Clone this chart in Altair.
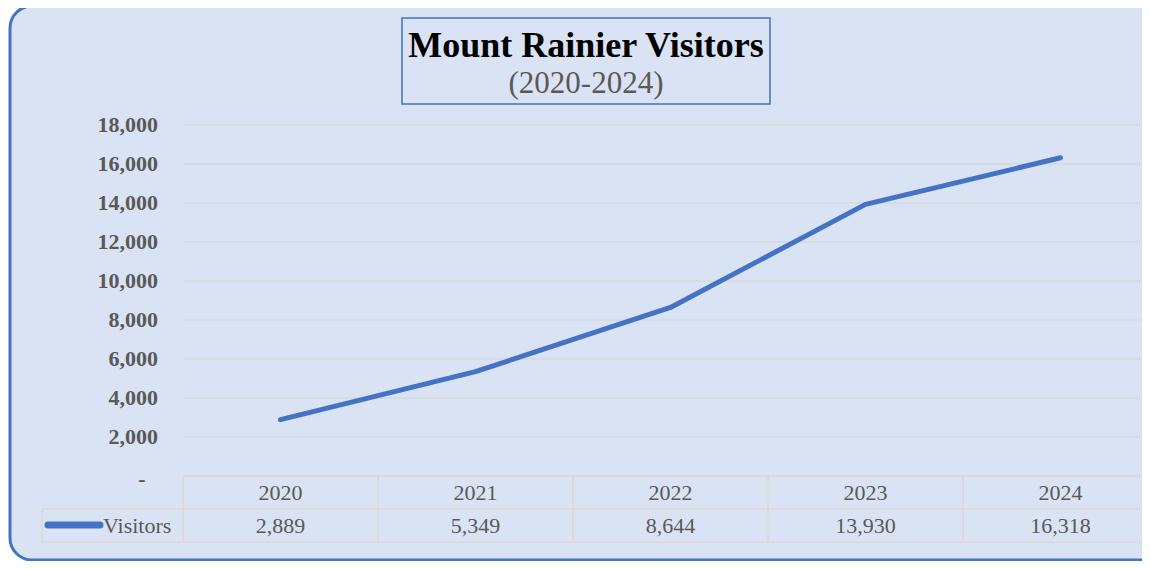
import altair as alt
import pandas as pd

years = ["2020", "2021", "2022", "2023", "2024"]
visitors = [2889, 5349, 8644, 13930, 16318]
y_ticks = [0, 2000, 4000, 6000, 8000, 10000, 12000, 14000, 16000, 18000]
y_tick_labels = ["-", "2,000", "4,000", "6,000", "8,000", "10,000", "12,000", "14,000", "16,000", "18,000"]
title_text = "Mount Rainier Visitors"
subtitle_text = "(2020-2024)"
series_name = "Visitors"

W, H = 1134, 553
FONT = "Liberation Serif"
BLUE = "#4472C4"
BG = "#DAE3F3"
GRID = "#D4D4D4"
TABLE = "#D9D2CA"
TXT = "#595959"

df = pd.DataFrame({"year": years, "visitors": visitors})
ticks = pd.DataFrame({"tick": y_ticks, "label": y_tick_labels})

xs = alt.Scale(domain=years, range=[175, 1150], paddingInner=0, paddingOuter=0)
ys = alt.Scale(domain=[0, 18000], range=[468, 117])

base = alt.Chart(df)

frame = alt.Chart(pd.DataFrame({"a": [0]})).mark_rect(
    fill=BG, stroke=BLUE, strokeWidth=3, cornerRadius=22
).encode(x=alt.value(2), x2=alt.value(W + 40), y=alt.value(-2), y2=alt.value(H - 1))

title_box = alt.Chart(pd.DataFrame({"a": [0]})).mark_rect(
    fill=None, stroke=BLUE, strokeWidth=1.5
).encode(x=alt.value(394), x2=alt.value(762), y=alt.value(10), y2=alt.value(96))

title = alt.Chart(pd.DataFrame({"t": [title_text]})).mark_text(
    font=FONT, fontSize=36, fontWeight="bold", color="#000000", baseline="alphabetic", align="center"
).encode(text="t:N", x=alt.value(578), y=alt.value(49))

subtitle = alt.Chart(pd.DataFrame({"t": [subtitle_text]})).mark_text(
    font=FONT, fontSize=31, color=TXT, baseline="alphabetic", align="center"
).encode(text="t:N", x=alt.value(578), y=alt.value(85))

grid = alt.Chart(ticks).transform_filter("datum.tick > 0").mark_rule(
    color=GRID, strokeWidth=1
).encode(y=alt.Y("tick:Q", scale=ys, axis=None), x=alt.value(175), x2=alt.value(W + 20))

ylabels = alt.Chart(ticks).transform_filter("datum.tick > 0").mark_text(
    font=FONT, fontSize=22, fontWeight="bold", color=TXT, align="right", baseline="middle"
).encode(y=alt.Y("tick:Q", scale=ys, axis=None), text="label:N", x=alt.value(150))

zero_label = alt.Chart(ticks).transform_filter("datum.tick == 0").mark_text(
    font=FONT, fontSize=22, fontWeight="bold", color=TXT, align="center", baseline="middle", dy=3
).encode(y=alt.Y("tick:Q", scale=ys, axis=None), text="label:N", x=alt.value(134))

# table lines
hlines = alt.Chart(pd.DataFrame({"y": [468, 501, 534], "x0": [175, 34, 34]})).mark_rule(
    color=TABLE, strokeWidth=1
).encode(y=alt.Y("y:Q", scale=None), x=alt.X("x0:Q", scale=None), x2=alt.value(W + 20))

vlines = base.mark_rule(color=TABLE, strokeWidth=1).encode(
    x=alt.X("year:O", scale=xs, bandPosition=0, axis=None), y=alt.value(468), y2=alt.value(534)
)
vleft = alt.Chart(pd.DataFrame({"a": [0]})).mark_rule(color=TABLE, strokeWidth=1).encode(
    x=alt.value(34), y=alt.value(501), y2=alt.value(534)
)

year_text = base.mark_text(font=FONT, fontSize=22, color=TXT, baseline="middle").encode(
    x=alt.X("year:O", scale=xs, axis=None), y=alt.value(485), text="year:N"
)
val_text = base.mark_text(font=FONT, fontSize=22, color=TXT, baseline="middle").encode(
    x=alt.X("year:O", scale=xs, axis=None), y=alt.value(518), text=alt.Text("visitors:Q", format=",")
)

legend_line = alt.Chart(pd.DataFrame({"a": [0]})).mark_rule(
    color=BLUE, strokeWidth=7, strokeCap="round"
).encode(x=alt.value(40), x2=alt.value(92), y=alt.value(517))
legend_text = alt.Chart(pd.DataFrame({"t": [series_name]})).mark_text(
    font=FONT, fontSize=22, color=TXT, align="left", baseline="middle"
).encode(x=alt.value(95), y=alt.value(518), text="t:N")

line = base.mark_line(color=BLUE, strokeWidth=5, strokeCap="round", strokeJoin="round").encode(
    x=alt.X("year:O", scale=xs, axis=None), y=alt.Y("visitors:Q", scale=ys, axis=None)
)

chart = alt.layer(
    frame, title_box, title, subtitle, grid, ylabels, zero_label,
    hlines, vlines, vleft, year_text, val_text, legend_line, legend_text, line
).properties(
    width=W, height=H, autosize=alt.AutoSizeParams(type="none"), padding=0, background="#FFFFFF"
).configure_view(stroke=None)

chart.save("out.html", embed_options={"renderer": "svg", "actions": False})
